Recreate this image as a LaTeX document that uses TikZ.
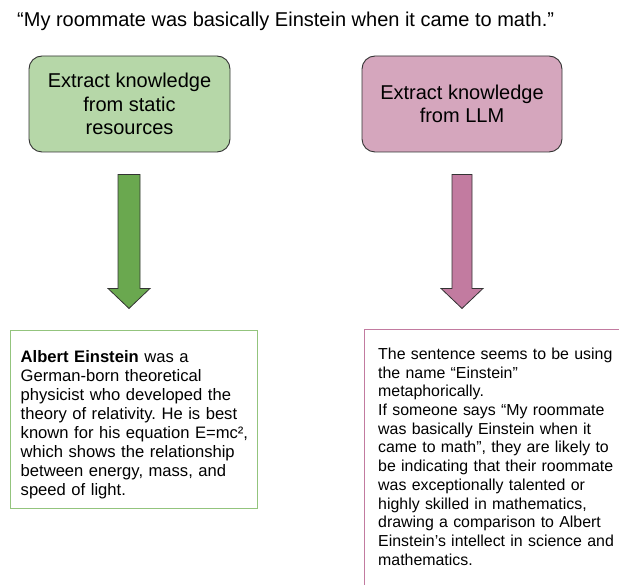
\documentclass[tikz,border=0pt]{standalone}
\usepackage{fontspec}
\setmainfont{Liberation Sans}
\usetikzlibrary{calc}
\frenchspacing

\definecolor{stepgreen}{HTML}{B6D7A8}
\definecolor{steppink}{HTML}{D5A6BD}
\definecolor{arrowgreen}{HTML}{6AA84F}
\definecolor{arrowpink}{HTML}{C27BA0}
\definecolor{framegreen}{HTML}{93C47D}
\definecolor{framepink}{HTML}{C27BA0}
\definecolor{outline}{HTML}{333333}

\tikzset{
  stepbox/.style={draw=outline, line width=0.9pt, rounded corners=13pt,
    minimum width=201pt, minimum height=96pt, inner sep=0pt, align=center,
    font=\fontsize{20}{23.5}\selectfont},
  blockarrow/.pic={
    \draw[pic actions] (-#1,0) -- (#1,0) -- (#1,114) -- (21,114) -- (0,134)
      -- (-21,114) -- (-#1,114) -- cycle;
  },
  bodytext/.style={anchor=base west, inner sep=0pt, align=left},
}

\begin{document}
\begin{tikzpicture}[x=1pt, y=-1pt]
\useasboundingbox (0,0) rectangle (619,585);

% question sentence
\node[anchor=base west, inner sep=0pt, font=\fontsize{20}{24}\selectfont]
  (question) at (17,27) {“My roommate was basically Einstein when it came to math.”};

% the two extraction routes
\node[stepbox, fill=stepgreen] (static) at (129.5,104)
  {Extract knowledge\\from static\\resources};
\node[stepbox, fill=steppink, minimum width=200pt] (llm) at (462,104)
  {Extract knowledge\\from LLM};

% block arrows below each route
\pic[fill=arrowgreen, draw=outline, line width=0.8pt] at ($(static.south)+(-0.5,22)$) {blockarrow=11};
\pic[fill=arrowpink, draw=outline, line width=0.8pt] at ($(llm.south)+(0,22)$) {blockarrow=10};

% result of the static-resource lookup
\node[draw=framegreen, line width=1pt, anchor=north west, inner sep=0pt,
  minimum width=247pt, minimum height=178pt] (staticout) at (10,330) {};
\node[bodytext, text width=240pt, font=\fontsize{16.6}{19}\selectfont]
  (statictext) at ($(staticout.north west)+(10.5,33)$)
  {\textbf{Albert Einstein} was a\\
   German-born theoretical\\
   physicist who developed the\\
   theory of relativity. He is best\\
   known for his equation E=mc²,\\
   which shows the relationship\\
   between energy, mass, and\\
   speed of light.};

% result of the LLM lookup (frame open to the right and below)
\coordinate (llmright) at (619,330);
\coordinate (llmcorner) at (364,330);
\coordinate (llmbottom) at (364,585);
\draw[framepink, line width=1pt] (llmright) -- (llmcorner) -- (llmbottom);
\node[bodytext, text width=245pt, font=\fontsize{15.9}{18.7}\selectfont]
  (llmtext) at ($(llmcorner)+(14,29.5)$)
  {The sentence seems to be using\\
   the name “Einstein”\\
   metaphorically.\\
   If someone says “My roommate\\
   was basically Einstein when it\\
   came to math”, they are likely to\\
   be indicating that their roommate\\
   was exceptionally talented or\\
   highly skilled in mathematics,\\
   drawing a comparison to Albert\\
   Einstein’s intellect in science and\\
   mathematics.};
\end{tikzpicture}
\end{document}
